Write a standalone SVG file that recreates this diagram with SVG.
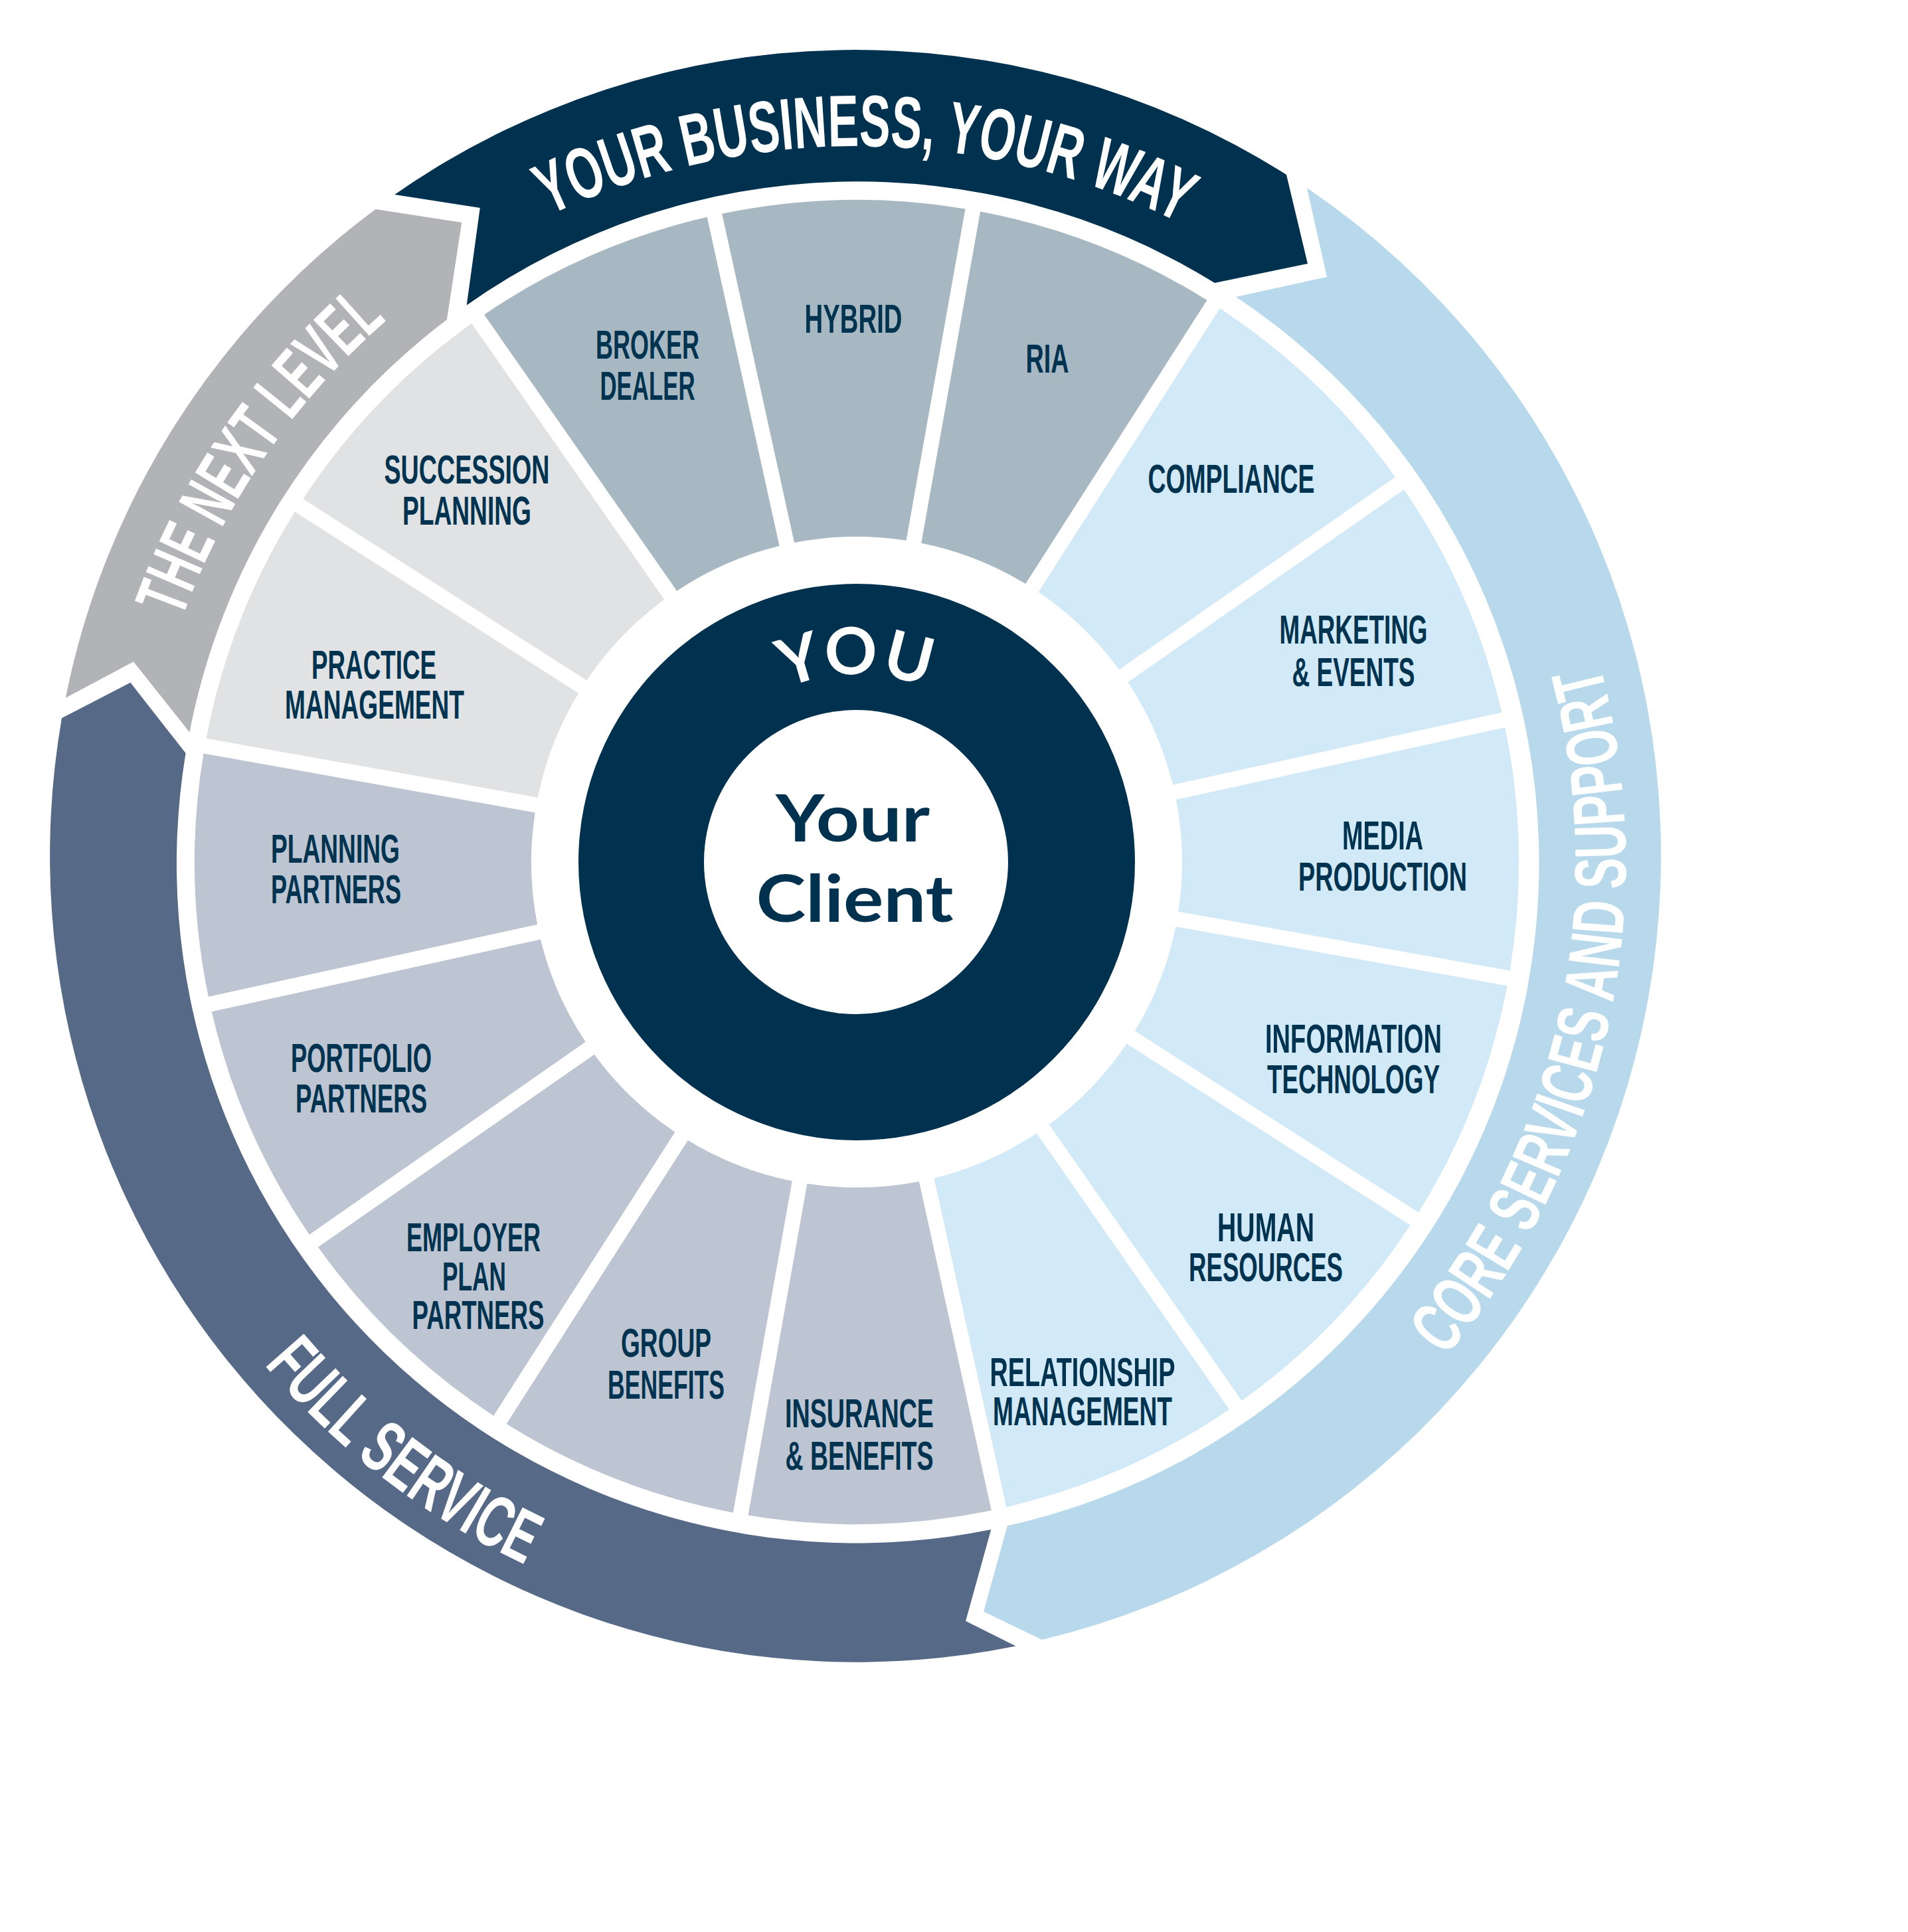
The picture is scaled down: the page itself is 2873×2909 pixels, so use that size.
<svg xmlns="http://www.w3.org/2000/svg" width="2873" height="2909" viewBox="0 0 2873 2909">
<defs>
<style>
.seg-t{font-family:"Liberation Sans",Arial,sans-serif;font-weight:bold;font-size:61px;fill:#00334F;text-anchor:middle}
.band-t{font-family:"Liberation Sans",Arial,sans-serif;font-weight:bold;font-size:110px;fill:#FFFFFF;text-anchor:middle}
.ctr-t{font-family:Lato,"Noto Sans",sans-serif;font-weight:bold;font-size:98px;text-anchor:middle}
.c-top{fill:#A8B8C3}
.c-core{fill:#D2E9F8}
.c-full{fill:#BDC5D3}
.c-next{fill:#E0E2E4}
.navy{fill:#00324F}
</style>
<path id="wedge" d="M -84.29 -482.70 L -183.22 -980.02 A 997 997 0 0 1 183.22 -980.02 L 84.29 -482.70 A 490 490 0 0 0 -84.29 -482.70 Z"/>
<path id="p-top" d="M 356.4 759 A 1078 1078 0 0 1 2223.6 759"/>
<path id="p-core" d="M 1686.1 2386.2 A 1158 1158 0 0 0 2108.8 479.2"/>
<path id="p-full" d="M 137.8 1501.1 A 1170 1170 0 0 0 1392 2463.5"/>
<path id="p-next" d="M 210 1298 A 1080 1080 0 0 1 920.6 283.1"/>
<path id="p-you" d="M 1007 1298 A 283 283 0 0 1 1573 1298"/>
</defs>
<rect x="0" y="0" width="2873" height="2909" fill="#FFFFFF"/>

<g id="band-your-business">
<path class="navy" d="M 594.2 293 A 1214 1214 0 0 1 1937 263 L 1969 397 L 1829 426 A 1023 1023 0 0 0 702.7 459.5 L 722.8 313.1 Z"/>
<text class="band-t"><textPath href="#p-top" startOffset="1142" textLength="985" lengthAdjust="spacingAndGlyphs">YOUR BUSINESS, YOUR WAY</textPath></text>
</g>
<g id="band-core-services">
<path fill="#B8D9EC" d="M 1968 283 A 1214 1214 0 0 1 1568.9 2468.9 L 1481.1 2426.5 L 1516.8 2297.4 A 1023 1023 0 0 0 1861 447 L 1998 417 Z"/>
<text class="band-t"><textPath href="#p-core" startOffset="1160" textLength="1110" lengthAdjust="spacingAndGlyphs">CORE SERVICES AND SUPPORT</textPath></text>
</g>
<g id="band-full-service">
<path fill="#566A88" d="M 1529.6 2478.6 A 1214 1214 0 0 1 93 1081.2 L 196.4 1027.8 L 279.6 1134 A 1023 1023 0 0 0 1492.3 2303 L 1454.1 2440.8 Z"/>
<text class="band-t"><textPath href="#p-full" startOffset="868" textLength="499" lengthAdjust="spacingAndGlyphs">FULL SERVICE</textPath></text>
</g>
<g id="band-next-level">
<path fill="#B1B3B7" d="M 98.8 1050.8 A 1214 1214 0 0 1 565.5 314.9 L 695.2 335 L 672.9 481.3 A 1023 1023 0 0 0 285.4 1102.5 L 201 996.3 Z"/>
<text class="band-t"><textPath href="#p-next" startOffset="649" textLength="552" lengthAdjust="spacingAndGlyphs">THE NEXT LEVEL</textPath></text>
</g>

<g id="seg-hybrid">
<use href="#wedge" class="c-top" transform="translate(1290 1298) rotate(-1.15)"/>
<text class="seg-t" x="1285" y="501" textLength="147" lengthAdjust="spacingAndGlyphs">HYBRID</text>
</g>
<g id="seg-ria">
<use href="#wedge" class="c-top" transform="translate(1290 1298) rotate(21.35)"/>
<text class="seg-t" x="1577" y="561" textLength="65" lengthAdjust="spacingAndGlyphs">RIA</text>
</g>
<g id="seg-compliance">
<use href="#wedge" class="c-core" transform="translate(1290 1298) rotate(43.85)"/>
<text class="seg-t" x="1854" y="742" textLength="251" lengthAdjust="spacingAndGlyphs">COMPLIANCE</text>
</g>
<g id="seg-marketing">
<use href="#wedge" class="c-core" transform="translate(1290 1298) rotate(66.35)"/>
<text class="seg-t" x="2038" y="969" textLength="223" lengthAdjust="spacingAndGlyphs">MARKETING</text>
<text class="seg-t" x="2038" y="1033" textLength="185" lengthAdjust="spacingAndGlyphs">&amp; EVENTS</text>
</g>
<g id="seg-media">
<use href="#wedge" class="c-core" transform="translate(1290 1298) rotate(88.85)"/>
<text class="seg-t" x="2082" y="1279" textLength="122" lengthAdjust="spacingAndGlyphs">MEDIA</text>
<text class="seg-t" x="2082" y="1341" textLength="254" lengthAdjust="spacingAndGlyphs">PRODUCTION</text>
</g>
<g id="seg-it">
<use href="#wedge" class="c-core" transform="translate(1290 1298) rotate(111.35)"/>
<text class="seg-t" x="2038" y="1585" textLength="266" lengthAdjust="spacingAndGlyphs">INFORMATION</text>
<text class="seg-t" x="2038" y="1646" textLength="260" lengthAdjust="spacingAndGlyphs">TECHNOLOGY</text>
</g>
<g id="seg-hr">
<use href="#wedge" class="c-core" transform="translate(1290 1298) rotate(133.85)"/>
<text class="seg-t" x="1906" y="1869" textLength="146" lengthAdjust="spacingAndGlyphs">HUMAN</text>
<text class="seg-t" x="1906" y="1929" textLength="232" lengthAdjust="spacingAndGlyphs">RESOURCES</text>
</g>
<g id="seg-relationship">
<use href="#wedge" class="c-core" transform="translate(1290 1298) rotate(156.35)"/>
<text class="seg-t" x="1630" y="2087" textLength="279" lengthAdjust="spacingAndGlyphs">RELATIONSHIP</text>
<text class="seg-t" x="1630" y="2146" textLength="270" lengthAdjust="spacingAndGlyphs">MANAGEMENT</text>
</g>
<g id="seg-insurance">
<use href="#wedge" class="c-full" transform="translate(1290 1298) rotate(178.85)"/>
<text class="seg-t" x="1294" y="2149" textLength="224" lengthAdjust="spacingAndGlyphs">INSURANCE</text>
<text class="seg-t" x="1294" y="2213" textLength="223" lengthAdjust="spacingAndGlyphs">&amp; BENEFITS</text>
</g>
<g id="seg-group">
<use href="#wedge" class="c-full" transform="translate(1290 1298) rotate(201.35)"/>
<text class="seg-t" x="1003" y="2043" textLength="136" lengthAdjust="spacingAndGlyphs">GROUP</text>
<text class="seg-t" x="1003" y="2106" textLength="176" lengthAdjust="spacingAndGlyphs">BENEFITS</text>
</g>
<g id="seg-employer">
<use href="#wedge" class="c-full" transform="translate(1290 1298) rotate(223.85)"/>
<text class="seg-t" x="713" y="1884" textLength="202" lengthAdjust="spacingAndGlyphs">EMPLOYER</text>
<text class="seg-t" x="714" y="1943" textLength="96" lengthAdjust="spacingAndGlyphs">PLAN</text>
<text class="seg-t" x="720" y="2001" textLength="199" lengthAdjust="spacingAndGlyphs">PARTNERS</text>
</g>
<g id="seg-portfolio">
<use href="#wedge" class="c-full" transform="translate(1290 1298) rotate(246.35)"/>
<text class="seg-t" x="544" y="1614" textLength="212" lengthAdjust="spacingAndGlyphs">PORTFOLIO</text>
<text class="seg-t" x="544" y="1675" textLength="198" lengthAdjust="spacingAndGlyphs">PARTNERS</text>
</g>
<g id="seg-planning">
<use href="#wedge" class="c-full" transform="translate(1290 1298) rotate(268.85)"/>
<text class="seg-t" x="505" y="1299" textLength="194" lengthAdjust="spacingAndGlyphs">PLANNING</text>
<text class="seg-t" x="506" y="1360" textLength="196" lengthAdjust="spacingAndGlyphs">PARTNERS</text>
</g>
<g id="seg-practice">
<use href="#wedge" class="c-next" transform="translate(1290 1298) rotate(291.35)"/>
<text class="seg-t" x="563" y="1022" textLength="188" lengthAdjust="spacingAndGlyphs">PRACTICE</text>
<text class="seg-t" x="564" y="1082" textLength="270" lengthAdjust="spacingAndGlyphs">MANAGEMENT</text>
</g>
<g id="seg-succession">
<use href="#wedge" class="c-next" transform="translate(1290 1298) rotate(313.85)"/>
<text class="seg-t" x="703" y="728" textLength="249" lengthAdjust="spacingAndGlyphs">SUCCESSION</text>
<text class="seg-t" x="703" y="790" textLength="194" lengthAdjust="spacingAndGlyphs">PLANNING</text>
</g>
<g id="seg-broker">
<use href="#wedge" class="c-top" transform="translate(1290 1298) rotate(336.35)"/>
<text class="seg-t" x="975" y="540" textLength="156" lengthAdjust="spacingAndGlyphs">BROKER</text>
<text class="seg-t" x="975" y="602" textLength="143" lengthAdjust="spacingAndGlyphs">DEALER</text>
</g>

<g id="center-you">
<circle class="navy" cx="1290" cy="1298" r="419"/>
<text class="ctr-t" fill="#FFFFFF"><textPath href="#p-you" startOffset="443" textLength="218" lengthAdjust="spacing">YOU</textPath></text>
</g>
<g id="center-client">
<circle cx="1289" cy="1298" r="229" fill="#FFFFFF"/>
<text class="ctr-t" fill="#00324F" x="1284" y="1267" textLength="232" lengthAdjust="spacingAndGlyphs">Your</text>
<text class="ctr-t" fill="#00324F" x="1287" y="1388" textLength="297" lengthAdjust="spacingAndGlyphs">Client</text>
</g>
<g id="connectors"/>
</svg>
